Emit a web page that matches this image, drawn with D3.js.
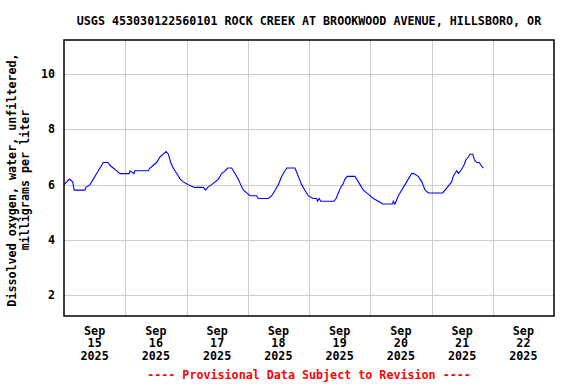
<!DOCTYPE html>
<html>
<head>
<meta charset="utf-8">
<script src="https://cdn.jsdelivr.net/npm/d3@7/dist/d3.min.js"></script>
<style>
  html, body { margin: 0; padding: 0; background: #fff; }
  svg text { font-family: "DejaVu Sans Mono", "Liberation Mono", monospace; font-weight: bold; }
</style>
</head>
<body>
<svg id="chart" width="576" height="384"></svg>
<script>
// ---- Data ----
const title = "USGS 453030122560101 ROCK CREEK AT BROOKWOOD AVENUE, HILLSBORO, OR";
const yLabelLines = ["Dissolved oxygen, water, unfiltered,", "milligrams per liter"];
const footer = "---- Provisional Data Subject to Revision ----";
const startDate = new Date(2025, 8, 15, 0, 0);
const endDate = new Date(2025, 8, 23, 0, 0);
// hours since 2025-09-15 00:00
const hoursSinceStart = [
  0.0, 2.1, 3.4, 4.0, 8.2, 8.6, 10.2, 11.5, 12.8, 14.1, 15.4, 17.2, 18.0, 19.3, 20.7, 21.9,
  25.6, 25.9, 27.4, 27.8, 33.0, 33.7, 35.0, 36.3, 37.6, 38.9, 40.0, 40.9, 41.8, 42.8, 44.2, 45.5, 46.7,
  48.7, 51.1, 54.6, 55.5, 56.3, 57.9, 59.2, 60.5, 61.8, 63.1, 64.1, 65.7, 67.0, 68.3, 69.2, 70.3, 71.6,
  72.9, 75.5, 76.1, 80.1, 81.4, 82.7, 84.0, 85.3, 86.6, 87.3, 90.5, 91.8, 93.1, 94.4, 95.7,
  97.5, 99.0, 99.3, 100.0, 100.6, 105.8, 106.6, 107.5, 108.4, 109.2, 110.1, 111.0, 114.0, 114.7, 116.0,
  117.3, 118.6, 119.9, 121.2, 123.2, 124.9, 128.8, 129.0, 129.7, 131.0, 132.3, 133.6, 134.9, 136.2,
  137.1, 138.8, 140.2, 141.5, 142.8, 148.4, 149.3, 150.2, 151.0, 151.9, 152.5, 153.2, 153.9, 154.5,
  155.4, 156.1, 156.7, 157.5, 158.4, 159.1, 160.2, 160.8, 161.7, 162.7, 163.4, 164.3
];
const oxygenValues = [
  6.0, 6.2, 6.1, 5.8, 5.8, 5.9, 6.0, 6.2, 6.4, 6.6, 6.8, 6.8, 6.7, 6.6, 6.5, 6.4,
  6.4, 6.5, 6.4, 6.5, 6.5, 6.6, 6.7, 6.8, 7.0, 7.1, 7.2, 7.1, 6.8, 6.6, 6.4, 6.2, 6.1,
  6.0, 5.9, 5.9, 5.8, 5.9, 6.0, 6.1, 6.2, 6.4, 6.5, 6.6, 6.6, 6.4, 6.2, 6.0, 5.8, 5.7,
  5.6, 5.6, 5.5, 5.5, 5.6, 5.8, 6.0, 6.3, 6.5, 6.6, 6.6, 6.3, 6.0, 5.8, 5.6,
  5.5, 5.5, 5.4, 5.5, 5.4, 5.4, 5.5, 5.7, 5.9, 6.0, 6.2, 6.3, 6.3, 6.2, 6.0,
  5.8, 5.7, 5.6, 5.5, 5.4, 5.3, 5.3, 5.4, 5.3, 5.6, 5.8, 6.0, 6.2, 6.4,
  6.4, 6.3, 6.1, 5.8, 5.7, 5.7, 5.8, 5.9, 6.0, 6.1, 6.3, 6.4, 6.5, 6.4,
  6.5, 6.6, 6.7, 6.9, 7.0, 7.1, 7.1, 6.9, 6.8, 6.8, 6.7, 6.6
];
const yTicks = [2, 4, 6, 8, 10];
const yDomain = [1.25, 11.23];
const dayLabels = ["15", "16", "17", "18", "19", "20", "21", "22"];
const monthLabel = "Sep";
const yearLabel = "2025";

// ---- Layout ----
const svg = d3.select("#chart");
const plot = { left: 64, right: 554, top: 40, bottom: 316 };
const x = d3.scaleTime().domain([startDate, endDate]).range([plot.left, plot.right]);
const y = d3.scaleLinear().domain(yDomain).range([plot.bottom, plot.top]);
const fs = 11.7;

const data = hoursSinceStart.map((h, i) => ({
  t: new Date(startDate.getTime() + h * 3600 * 1000),
  v: oxygenValues[i]
}));

// Grid lines
const dayBounds = d3.timeDay.range(d3.timeDay.offset(startDate, 1), endDate);
svg.append("g").selectAll("line").data(dayBounds).join("line")
  .attr("x1", d => Math.round(x(d)) + 0.5).attr("x2", d => Math.round(x(d)) + 0.5)
  .attr("y1", plot.top).attr("y2", plot.bottom)
  .attr("stroke", "#cccccc").attr("stroke-width", 1);
svg.append("g").selectAll("line").data(yTicks).join("line")
  .attr("x1", plot.left).attr("x2", plot.right)
  .attr("y1", d => Math.round(y(d)) + 0.5).attr("y2", d => Math.round(y(d)) + 0.5)
  .attr("stroke", "#cccccc").attr("stroke-width", 1);

// Data line
const line = d3.line().x(d => x(d.t)).y(d => y(d.v));
svg.append("path").datum(data)
  .attr("d", line).attr("fill", "none")
  .attr("stroke", "#0000ff").attr("stroke-width", 1.1);

// Plot border
svg.append("rect")
  .attr("x", plot.left).attr("y", plot.top)
  .attr("width", plot.right - plot.left).attr("height", plot.bottom - plot.top)
  .attr("fill", "none").attr("stroke", "#000").attr("stroke-width", 1.5);

// Y tick labels
svg.append("g").selectAll("text").data(yTicks).join("text")
  .attr("x", 55).attr("y", d => y(d) + 4)
  .attr("text-anchor", "end").attr("font-size", fs).attr("fill", "#000")
  .text(d => d);

// X labels (centered at noon of each day)
const days = d3.timeDay.range(startDate, endDate);
const xl = svg.append("g").selectAll("text").data(days).join("text")
  .attr("text-anchor", "middle").attr("font-size", fs).attr("fill", "#000")
  .attr("transform", d => `translate(${x(d3.timeHour.offset(d, 12))},0)`);
xl.append("tspan").attr("x", 0).attr("y", 334.5).text(monthLabel);
xl.append("tspan").attr("x", 0).attr("y", 347).text((d, i) => dayLabels[i]);
xl.append("tspan").attr("x", 0).attr("y", 359.5).text(yearLabel);

// Title
svg.append("text").attr("x", (plot.left + plot.right) / 2).attr("y", 24.5)
  .attr("text-anchor", "middle").attr("font-size", fs).attr("fill", "#000")
  .text(title);

// Y axis title
const yt = svg.append("text").attr("text-anchor", "middle").attr("font-size", fs).attr("fill", "#000")
  .attr("transform", `translate(0,${(plot.top + plot.bottom) / 2 + 2}) rotate(-90)`);
yLabelLines.forEach((t, i) => yt.append("tspan").attr("x", 0).attr("y", 16 + i * 12.5).text(t));

// Footer
svg.append("text").attr("x", (plot.left + plot.right) / 2).attr("y", 379)
  .attr("text-anchor", "middle").attr("font-size", fs).attr("fill", "#ff0000")
  .text(footer);
</script>
</body>
</html>
